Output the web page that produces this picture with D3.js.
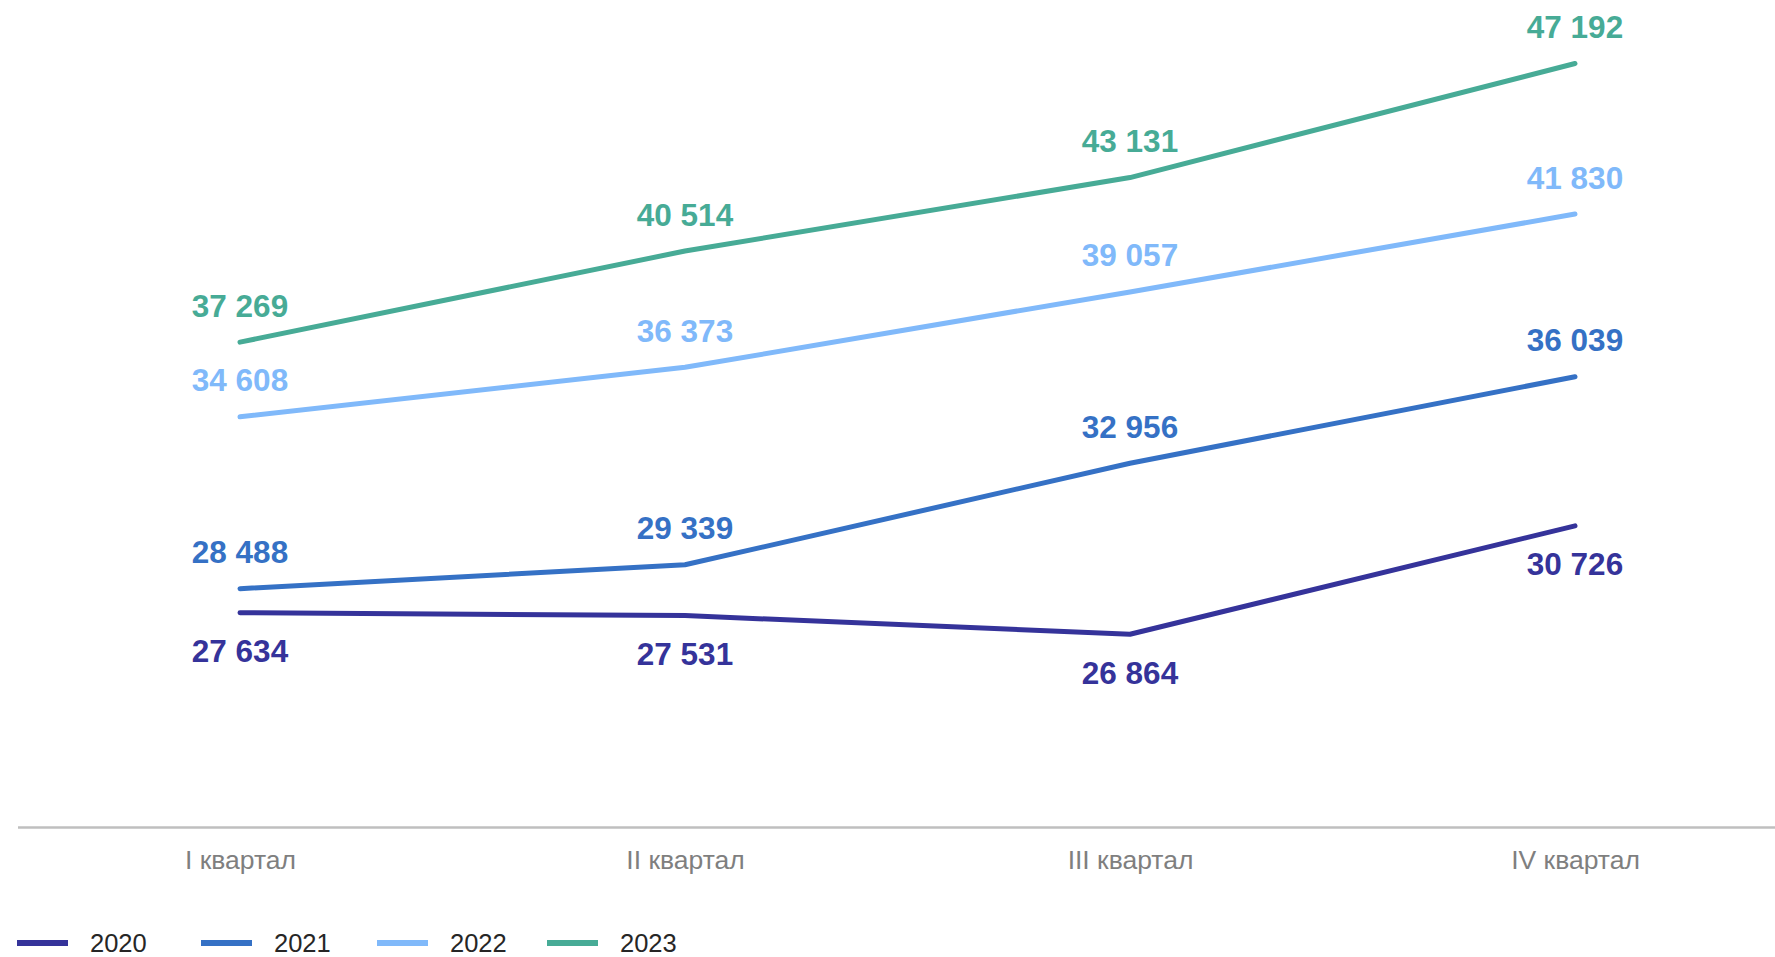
<!DOCTYPE html>
<html>
<head>
<meta charset="utf-8">
<script src="https://cdn.jsdelivr.net/npm/d3@7"></script>
<style>
  html, body { margin: 0; padding: 0; background: #ffffff; }
  svg { display: block; }
</style>
</head>
<body>
<svg id="chart" width="1775" height="957"></svg>
<script>
// ---- Data ----
const categories = ["I квартал", "II квартал", "III квартал", "IV квартал"];
const seriesNames = ["2020", "2021", "2022", "2023"];
const values2020 = [27634, 27531, 26864, 30726];
const values2021 = [28488, 29339, 32956, 36039];
const values2022 = [34608, 36373, 39057, 41830];
const values2023 = [37269, 40514, 43131, 47192];
const seriesColors = ["#35339a", "#3571c5", "#80b9fa", "#47ab96"];
const labelBelow = [true, false, false, false];

const seriesValues = [values2020, values2021, values2022, values2023];
const series = seriesNames.map((name, i) => ({
  name,
  color: seriesColors[i],
  below: labelBelow[i],
  points: categories.map((c, j) => ({ cat: c, value: seriesValues[i][j] }))
}));

const svg = d3.select("#chart");
const fmt = v => d3.format(",")(v).replace(/,/g, " ");

// ---- Scales ----
const axisY = 827;
const x = d3.scalePoint().domain(categories).range([17.5, 1797.5]).padding(0.5);
const y = d3.scaleLinear().domain([20000, 50000]).range([axisY, -15.3]);

// ---- Axis ----
const axis = d3.axisBottom(x).tickSize(0).tickPadding(23);
const gAxis = svg.append("g").attr("transform", `translate(0,${axisY})`).call(axis);
gAxis.select(".domain").attr("stroke", "#bfbfbf").attr("stroke-width", 2.5);
gAxis.selectAll(".tick text")
  .attr("fill", "#7f7f7f")
  .style("font-family", "'Liberation Sans', Arial, sans-serif")
  .style("font-size", "26.5px");

// ---- Lines ----
const line = d3.line().x(d => x(d.cat)).y(d => y(d.value));
svg.append("g").selectAll("path")
  .data(series)
  .join("path")
  .attr("d", d => line(d.points))
  .attr("fill", "none")
  .attr("stroke", d => d.color)
  .attr("stroke-width", 5)
  .attr("stroke-linecap", "round")
  .attr("stroke-linejoin", "round");

// ---- Data labels ----
const gLabels = svg.append("g");
series.forEach(s => {
  gLabels.selectAll(null)
    .data(s.points)
    .join("text")
    .attr("x", d => x(d.cat))
    .attr("y", d => y(d.value) + (s.below ? 49.5 : -25.5))
    .attr("text-anchor", "middle")
    .attr("fill", s.color)
    .style("font-family", "'Liberation Sans', Arial, sans-serif")
    .style("font-weight", "bold")
    .style("font-size", "31.5px")
    .text(d => fmt(d.value));
});

// ---- Legend ----
const legendX = [17, 201, 377, 547];
const legendY = 943;
const gLegend = svg.append("g");
series.forEach((s, i) => {
  const g = gLegend.append("g").attr("transform", `translate(${legendX[i]},${legendY})`);
  g.append("line")
    .attr("x1", 0).attr("x2", 51).attr("y1", 0).attr("y2", 0)
    .attr("stroke", s.color).attr("stroke-width", 6);
  g.append("text")
    .attr("x", 73).attr("y", 8.5)
    .attr("fill", "#262626")
    .style("font-family", "'Liberation Sans', Arial, sans-serif")
    .style("font-size", "25.5px")
    .text(s.name);
});
</script>
</body>
</html>
